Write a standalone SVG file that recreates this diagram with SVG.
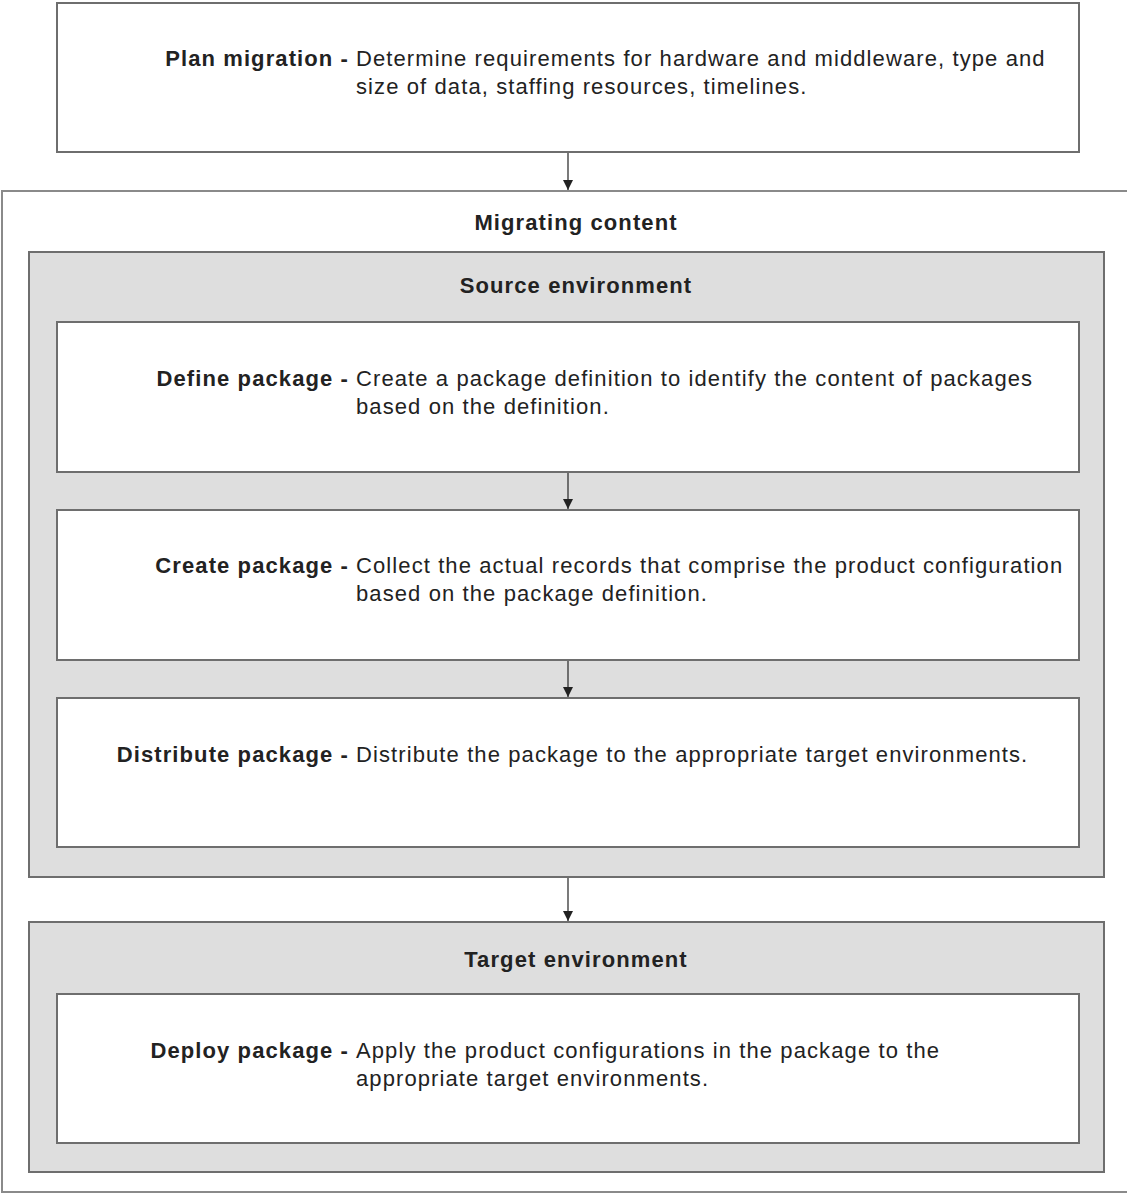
<svg xmlns="http://www.w3.org/2000/svg" width="1127" height="1194" viewBox="0 0 1127 1194">
<defs>
<style>
.box{fill:#fff;stroke:#6e6e6e;stroke-width:2}
.env{fill:#dedede;stroke:#6e6e6e;stroke-width:2}
.outer{fill:#fff;stroke:#8a8a8a;stroke-width:2}
text{font-family:"Liberation Sans",Arial,sans-serif;font-size:22px;letter-spacing:1.1px;fill:#222}
.lbl{font-weight:bold;text-anchor:end}
.t{text-anchor:middle;font-weight:bold}
.conn{stroke:#333;stroke-width:1.3;fill:none}
</style>
<marker id="arr" viewBox="0 0 10 10" refX="10" refY="5" markerWidth="10" markerHeight="10" markerUnits="userSpaceOnUse" orient="auto">
<path d="M0,0 L10,5 L0,10 z" fill="#222"/>
</marker>
</defs>
<rect width="1127" height="1194" fill="#fff"/>
<g id="plan">
<rect class="box" x="57" y="3" width="1022" height="149"/>
<text class="lbl" x="349" y="66">Plan migration -</text>
<text x="356" y="66">Determine requirements for hardware and middleware, type and</text>
<text x="356" y="94">size of data, staffing resources, timelines.</text>
</g>
<g id="migrating">
<path class="outer" d="M1128,191 L2,191 L2,1192 L1128,1192"/>
<text class="t" x="576" y="230">Migrating content</text>
</g>
<g id="source">
<rect class="env" x="29" y="252" width="1075" height="625"/>
<text class="t" x="576" y="293">Source environment</text>
</g>
<g id="define">
<rect class="box" x="57" y="322" width="1022" height="150"/>
<text class="lbl" x="349" y="386">Define package -</text>
<text x="356" y="386">Create a package definition to identify the content of packages</text>
<text x="356" y="414">based on the definition.</text>
</g>
<g id="create">
<rect class="box" x="57" y="510" width="1022" height="150"/>
<text class="lbl" x="349" y="573">Create package -</text>
<text x="356" y="573">Collect the actual records that comprise the product configuration</text>
<text x="356" y="601">based on the package definition.</text>
</g>
<g id="distribute">
<rect class="box" x="57" y="698" width="1022" height="149"/>
<text class="lbl" x="349" y="762">Distribute package -</text>
<text x="356" y="762">Distribute the package to the appropriate target environments.</text>
</g>
<g id="target">
<rect class="env" x="29" y="922" width="1075" height="250"/>
<text class="t" x="576" y="967">Target environment</text>
</g>
<g id="deploy">
<rect class="box" x="57" y="994" width="1022" height="149"/>
<text class="lbl" x="349" y="1058">Deploy package -</text>
<text x="356" y="1058">Apply the product configurations in the package to the</text>
<text x="356" y="1086">appropriate target environments.</text>
</g>
<g id="connectors">
<line class="conn" x1="568" y1="153" x2="568" y2="190" marker-end="url(#arr)"/>
<line class="conn" x1="568" y1="473" x2="568" y2="509" marker-end="url(#arr)"/>
<line class="conn" x1="568" y1="661" x2="568" y2="697" marker-end="url(#arr)"/>
<line class="conn" x1="568" y1="878" x2="568" y2="921" marker-end="url(#arr)"/>
</g>
</svg>
